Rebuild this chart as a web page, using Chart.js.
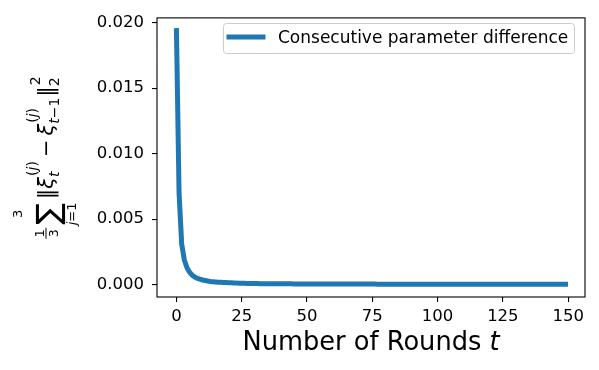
<!DOCTYPE html>
<html>
<head>
<meta charset="utf-8">
<script src="https://cdn.jsdelivr.net/npm/chart.js@4.4.1/dist/chart.umd.min.js"></script>
<style>
  html, body { margin: 0; padding: 0; background: #ffffff; }
  #chart { display: block; }
</style>
</head>
<body>
<canvas id="chart" width="599" height="370"></canvas>
<script>
// --- Data ---
const diffs = [
    0.0194, 0.0070, 0.0031, 0.0019, 0.0013, 0.00095, 0.00072, 0.00058, 0.00048, 0.00041,
    0.00035, 0.00031, 0.00027, 0.00024, 0.00022, 0.00020, 0.00018, 0.00017, 0.00016, 0.00015,
    0.00014, 0.00013, 0.00012, 0.00011, 0.000105, 0.00010, 0.000095, 0.000090, 0.000085, 0.000080,
    7.6e-5, 7.3e-5, 7.0e-5, 6.8e-5, 6.6e-5, 6.4e-5, 6.2e-5, 6.0e-5, 5.9e-5, 5.8e-5,
    5.7e-5, 5.6e-5, 5.5e-5, 5.4e-5, 5.3e-5, 5.2e-5, 5.1e-5, 5.0e-5, 4.9e-5, 4.8e-5,
    4.7e-5, 4.6e-5, 4.6e-5, 4.5e-5, 4.4e-5, 4.4e-5, 4.3e-5, 4.2e-5, 4.2e-5, 4.1e-5,
    4.1e-5, 4.0e-5, 4.0e-5, 3.9e-5, 3.9e-5, 3.8e-5, 3.8e-5, 3.7e-5, 3.7e-5, 3.6e-5,
    3.6e-5, 3.6e-5, 3.5e-5, 3.5e-5, 3.4e-5, 3.4e-5, 3.4e-5, 3.3e-5, 3.3e-5, 3.3e-5,
    3.2e-5, 3.2e-5, 3.2e-5, 3.1e-5, 3.1e-5, 3.1e-5, 3.0e-5, 3.0e-5, 3.0e-5, 3.0e-5,
    2.9e-5, 2.9e-5, 2.9e-5, 2.9e-5, 2.8e-5, 2.8e-5, 2.8e-5, 2.8e-5, 2.7e-5, 2.7e-5,
    2.7e-5, 2.7e-5, 2.6e-5, 2.6e-5, 2.6e-5, 2.6e-5, 2.6e-5, 2.5e-5, 2.5e-5, 2.5e-5,
    2.5e-5, 2.5e-5, 2.4e-5, 2.4e-5, 2.4e-5, 2.4e-5, 2.4e-5, 2.3e-5, 2.3e-5, 2.3e-5,
    2.3e-5, 2.3e-5, 2.3e-5, 2.2e-5, 2.2e-5, 2.2e-5, 2.2e-5, 2.2e-5, 2.2e-5, 2.1e-5,
    2.1e-5, 2.1e-5, 2.1e-5, 2.1e-5, 2.1e-5, 2.0e-5, 2.0e-5, 2.0e-5, 2.0e-5, 2.0e-5,
    2.0e-5, 2.0e-5, 1.9e-5, 1.9e-5, 1.9e-5, 1.9e-5, 1.9e-5, 1.9e-5, 1.9e-5, 1.8e-5
];
const rounds = diffs.map((_, i) => i);
const xTicks = [0, 25, 50, 75, 100, 125, 150];
const yTicks = [0.000, 0.005, 0.010, 0.015, 0.020];
const seriesLabel = 'Consecutive parameter difference';
const xLabel = 'Number of Rounds ';
const xLabelVar = 't';

const FONT = '"DejaVu Sans"';
const BLUE = '#1f77b4';

function font(size, italic) {
    return (italic ? 'italic ' : '') + size + 'px ' + FONT;
}

// --- Math label helpers ---
function runsWidth(ctx, runs) {
    return runs.reduce((w, r) => {
        ctx.font = r.font;
        return w + ctx.measureText(r.text).width;
    }, 0);
}

function drawRuns(ctx, runs, x, y) {
    runs.forEach(r => {
        ctx.font = r.font;
        ctx.fillText(r.text, x, y);
        x += ctx.measureText(r.text).width;
    });
}

function gap(boxes, w) {
    boxes.push({ w: w, draw: () => {} });
}

function drawYLabel(ctx, baseX, centerY) {
    const M = 21, S = 14;
    const up = font(M, false), it = font(M, true);
    const sm = font(S, false), smIt = font(S, true);
    const supJ = [{ text: '(', font: sm }, { text: 'j', font: smIt }, { text: ')', font: sm }];
    const boxes = [];

    // 1/3
    ctx.font = font(12.5, false);
    const fracW = Math.max(ctx.measureText('1').width, ctx.measureText('3').width) + 3;
    boxes.push({ w: fracW, draw: x => {
        ctx.font = font(12.5, false);
        ctx.textAlign = 'center';
        ctx.fillText('1', x + fracW / 2, -9.5);
        ctx.fillText('3', x + fracW / 2, 4.5);
        ctx.textAlign = 'left';
        ctx.fillRect(x, -7.5, fracW, 1);
    } });
    gap(boxes, 3);

    // big sum with limits, scaled to a 30px tall glyph
    ctx.font = font(30, false);
    const probe = ctx.measureText('\u2211');
    const sumSize = 30 * 30 / (probe.actualBoundingBoxAscent + probe.actualBoundingBoxDescent);
    ctx.font = font(sumSize, false);
    const sumM = ctx.measureText('\u2211');
    const sumW = sumM.width;
    boxes.push({ w: sumW, draw: x => {
        ctx.font = font(sumSize, false);
        const h = sumM.actualBoundingBoxAscent + sumM.actualBoundingBoxDescent;
        const base = -3 + h / 2 - sumM.actualBoundingBoxDescent;
        ctx.fillText('\u2211', x, base);
        ctx.font = font(13, false);
        ctx.textAlign = 'center';
        ctx.fillText('3', x + sumW / 2, -31);
        ctx.textAlign = 'left';
        const lim = [{ text: 'j', font: font(13, true) }, { text: '=1', font: font(13, false) }];
        const lw = runsWidth(ctx, lim);
        drawRuns(ctx, lim, x + (sumW - lw) / 2, 23);
    } });
    gap(boxes, 4);

    function symbolWithScripts(sym, symFont, sup, sub, supDy, subDy) {
        ctx.font = symFont;
        const sw = ctx.measureText(sym).width;
        const scw = Math.max(runsWidth(ctx, sup), runsWidth(ctx, sub));
        boxes.push({ w: sw + scw + 1, draw: x => {
            ctx.font = symFont;
            ctx.fillText(sym, x, 0);
            drawRuns(ctx, sup, x + sw + 1, supDy);
            drawRuns(ctx, sub, x + sw, subDy);
        } });
    }

    // ||xi_t^(j)
    ctx.font = up;
    const barW = ctx.measureText('\u2016').width;
    boxes.push({ w: barW, draw: x => { ctx.font = up; ctx.fillText('\u2016', x, 0); } });
    symbolWithScripts('\u03be', it, supJ, [{ text: 't', font: smIt }], -16, 6);

    // minus
    ctx.font = up;
    const minusW = ctx.measureText('\u2212').width;
    boxes.push({ w: minusW + 8, draw: x => { ctx.font = up; ctx.fillText('\u2212', x + 4, 0); } });

    // xi_{t-1}^(j)
    symbolWithScripts('\u03be', it, supJ,
        [{ text: 't', font: smIt }, { text: '\u22121', font: sm }], -16, 6);

    // ||_2^2
    symbolWithScripts('\u2016', up, [{ text: '2', font: sm }], [{ text: '2', font: sm }], -13, 6);

    const total = boxes.reduce((s, b) => s + b.w, 0);
    ctx.save();
    ctx.translate(baseX, centerY);
    ctx.rotate(-Math.PI / 2);
    ctx.fillStyle = '#000000';
    ctx.textBaseline = 'alphabetic';
    ctx.textAlign = 'left';
    let x = -total / 2;
    boxes.forEach(b => { b.draw(x); x += b.w; });
    ctx.restore();
}

// --- Plugin: frame, legend, axis titles ---
const decorations = {
    id: 'decorations',
    afterDraw(chart) {
        const ctx = chart.ctx;
        const area = chart.chartArea;

        // spines
        ctx.save();
        ctx.strokeStyle = '#000000';
        ctx.lineWidth = 1.1;
        ctx.strokeRect(area.left, area.top, area.right - area.left, area.bottom - area.top);
        ctx.restore();

        // legend
        const bx = 223.5, by = 23.5, bw = 351, bh = 30;
        ctx.save();
        ctx.beginPath();
        ctx.roundRect(bx, by, bw, bh, 3);
        ctx.fillStyle = 'rgba(255,255,255,0.8)';
        ctx.fill();
        ctx.strokeStyle = '#cccccc';
        ctx.lineWidth = 1;
        ctx.stroke();
        ctx.beginPath();
        ctx.moveTo(229, 37);
        ctx.lineTo(263, 37);
        ctx.strokeStyle = BLUE;
        ctx.lineWidth = 5;
        ctx.lineCap = 'square';
        ctx.stroke();
        ctx.fillStyle = '#000000';
        ctx.font = font(17, false);
        ctx.textBaseline = 'alphabetic';
        ctx.fillText(seriesLabel, 278, 42.8);
        ctx.restore();

        // x title
        ctx.save();
        ctx.fillStyle = '#000000';
        ctx.textBaseline = 'alphabetic';
        const runs = [{ text: xLabel, font: font(25.7, false) }, { text: xLabelVar, font: font(25.7, true) }];
        const w = runsWidth(ctx, runs);
        drawRuns(ctx, runs, (area.left + area.right) / 2 - w / 2, 350);
        ctx.restore();

        // y title
        drawYLabel(ctx, 53, 157.5);
    }
};

new Chart(document.getElementById('chart').getContext('2d'), {
    type: 'line',
    data: {
        datasets: [{
            label: seriesLabel,
            data: rounds.map((t, i) => ({ x: t, y: diffs[i] })),
            borderColor: BLUE,
            borderWidth: 5,
            borderCapStyle: 'square',
            borderJoinStyle: 'round',
            pointRadius: 0,
            tension: 0,
            fill: false
        }]
    },
    options: {
        responsive: false,
        animation: false,
        devicePixelRatio: 1,
        layout: { padding: { left: 0, right: 14, top: 14, bottom: 0 } },
        plugins: { legend: { display: false }, tooltip: { enabled: false } },
        scales: {
            x: {
                type: 'linear',
                min: -7.45,
                max: 156.45,
                afterBuildTicks: scale => { scale.ticks = xTicks.map(v => ({ value: v })); },
                afterFit: scale => { scale.height = 73; },
                ticks: {
                    color: '#000000',
                    font: { family: 'DejaVu Sans', size: 16.5 },
                    padding: 5,
                    maxRotation: 0,
                    callback: v => String(v)
                },
                grid: { drawOnChartArea: false, drawTicks: true, tickLength: 5, color: '#000000', lineWidth: 1.1 },
                border: { display: false }
            },
            y: {
                type: 'linear',
                min: -0.00095,
                max: 0.02037,
                afterBuildTicks: scale => { scale.ticks = yTicks.map(v => ({ value: v })); },
                afterFit: scale => { scale.width = 157; },
                ticks: {
                    color: '#000000',
                    font: { family: 'DejaVu Sans', size: 16.5 },
                    padding: 8,
                    callback: v => v.toFixed(3)
                },
                grid: { drawOnChartArea: false, drawTicks: true, tickLength: 5, color: '#000000', lineWidth: 1.1 },
                border: { display: false }
            }
        }
    },
    plugins: [decorations]
});
</script>
</body>
</html>
